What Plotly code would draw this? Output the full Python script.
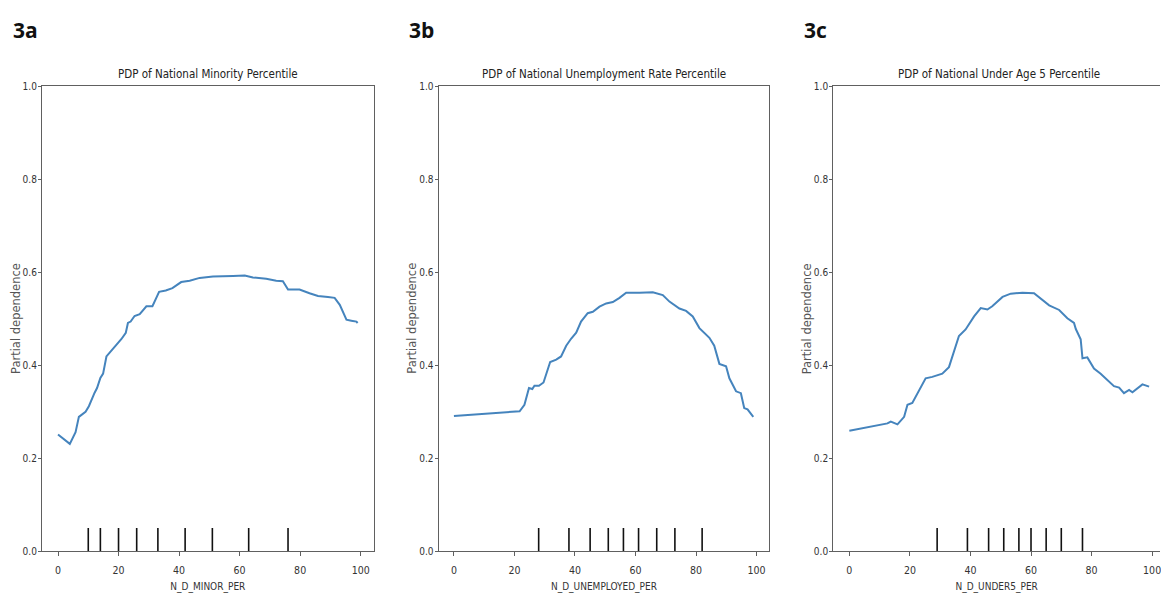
import plotly.graph_objects as go

# ---------------- data ----------------
titles = ["PDP of National Minority Percentile",
          "PDP of National Unemployment Rate Percentile",
          "PDP of National Under Age 5 Percentile"]
xlabels = ["N_D_MINOR_PER", "N_D_UNEMPLOYED_PER", "N_D_UNDER5_PER"]
ylabel = "Partial dependence"
panel_tags = ["3a", "3b", "3c"]

minor_x = [0, 3.9, 5.8, 6.9, 9.1, 10.2, 12.1, 12.9, 14, 14.9, 16, 18.2, 19.5, 20.9, 22.4, 23.1, 24,
           25.3, 27, 29.2, 31.2, 32.2, 33.4, 35.6, 37.8, 40.7, 43.5, 46.8, 51.2, 57.8, 61.7, 64.4,
           68.8, 72.1, 74.3, 76, 79.8, 83.1, 85.9, 89.2, 91.4, 93.1, 95.3, 96.9, 98.6, 99]
minor_y = [0.251, 0.231, 0.256, 0.289, 0.300, 0.312, 0.341, 0.351, 0.373, 0.382, 0.419, 0.436, 0.445,
           0.456, 0.470, 0.491, 0.494, 0.506, 0.510, 0.527, 0.527, 0.540, 0.558, 0.561, 0.566, 0.579,
           0.582, 0.588, 0.591, 0.592, 0.593, 0.589, 0.586, 0.582, 0.581, 0.563, 0.563, 0.555, 0.549,
           0.547, 0.545, 0.530, 0.498, 0.496, 0.494, 0.491]
minor_deciles = [10, 14, 20, 26, 33, 42, 51, 63, 76]

unemp_x = [0, 21.7, 23.3, 24.8, 25.9, 26.6, 28.1, 29.6, 31.8, 33.8, 35.4, 37.1, 38.7, 40.4, 42, 44.2,
           45.9, 48.1, 50.3, 52.5, 54.7, 56.9, 61.3, 65.7, 69, 71.2, 74.5, 76.7, 78.9, 81.1, 84.4, 86,
           87.7, 89.9, 91, 93.2, 94.8, 95.9, 97, 98.9]
unemp_y = [0.291, 0.301, 0.315, 0.351, 0.349, 0.356, 0.356, 0.363, 0.407, 0.412, 0.419, 0.442, 0.457,
           0.470, 0.494, 0.512, 0.515, 0.526, 0.533, 0.536, 0.545, 0.556, 0.556, 0.557, 0.551, 0.537,
           0.522, 0.517, 0.505, 0.480, 0.459, 0.442, 0.403, 0.398, 0.372, 0.344, 0.340, 0.308, 0.305,
           0.289]
unemp_deciles = [28, 38, 45, 51, 56, 61, 67, 73, 82]

under5_x = [0, 12.6, 13.7, 15.9, 18.1, 19.2, 20.8, 23, 25.2, 27.4, 30.7, 32.9, 34.6, 36.2, 38.4, 41.2,
            43.4, 45.6, 47.2, 48.9, 50.6, 53.3, 57.2, 61, 63.2, 66, 69.3, 72, 74.2, 74.8, 76.4, 77,
            78.6, 80.8, 83, 85.2, 87.4, 89.1, 90.7, 92.4, 93.5, 96.8, 99]
under5_y = [0.259, 0.275, 0.279, 0.273, 0.289, 0.315, 0.319, 0.347, 0.372, 0.375, 0.382, 0.396, 0.428,
            0.463, 0.477, 0.505, 0.523, 0.520, 0.527, 0.536, 0.547, 0.554, 0.556, 0.555, 0.544, 0.529,
            0.519, 0.501, 0.491, 0.478, 0.456, 0.415, 0.417, 0.393, 0.382, 0.368, 0.355, 0.352, 0.340,
            0.347, 0.342, 0.359, 0.354]
under5_deciles = [29, 39, 46, 51, 56, 60, 65, 70, 77]

rug_height = 0.05
y_ticks = [0.0, 0.2, 0.4, 0.6, 0.8, 1.0]
x_ticks = [0, 20, 40, 60, 80, 100]

curves = [(minor_x, minor_y, minor_deciles),
          (unemp_x, unemp_y, unemp_deciles),
          (under5_x, under5_y, under5_deciles)]

# ---------------- layout geometry ----------------
W, H = 1161, 593
x_domains = [[42 / W, 374 / W], [439 / W, 770 / W], [834 / W, 1.0]]
x_ranges = [[-5.3, 104.3], [-5.05, 104.2], [-5.3, 102.6]]
y_domain = [(H - 556.5) / H, (H - 82) / H]
title_cx = [208, 604.5, 1000]
ylabel_x = [15.5, 411.5, 807.5]
tag_x = [11, 407, 803]

FONT = "DejaVu Sans Condensed, Liberation Sans Narrow, DejaVu Sans, sans-serif"
LINE_COLOR = "#4584bd"
AX_COLOR = "#606060"

fig = go.Figure()

for i, (xs, ys, dec) in enumerate(curves):
    xa = "x" if i == 0 else f"x{i+1}"
    ya = "y" if i == 0 else f"y{i+1}"
    fig.add_trace(go.Scatter(x=xs, y=ys, mode="lines", xaxis=xa, yaxis=ya,
                             line=dict(color=LINE_COLOR, width=2), showlegend=False))
    rx, ry = [], []
    for d in dec:
        rx += [d, d, None]
        ry += [0, rug_height, None]
    fig.add_trace(go.Scatter(x=rx, y=ry, mode="lines", xaxis=xa, yaxis=ya,
                             line=dict(color="#111111", width=1.6), showlegend=False))

layout = dict(width=W, height=H, margin=dict(l=0, r=0, t=0, b=0),
              paper_bgcolor="white", plot_bgcolor="white",
              font=dict(family=FONT, color="#333333", size=10))

annotations = []
for i in range(3):
    sfx = "" if i == 0 else str(i + 1)
    layout["xaxis" + sfx] = dict(
        domain=x_domains[i], range=x_ranges[i], anchor="y" + sfx,
        tickmode="array", tickvals=x_ticks, ticks="outside", ticklen=4, tickcolor=AX_COLOR,
        ticklabelstandoff=5, ticklabeloverflow="allow",
        showline=True, linecolor=AX_COLOR, linewidth=1.2, mirror=True,
        showgrid=False, zeroline=False,
        tickfont=dict(size=10.5, color="#333333", family=FONT),
        title=dict(text=xlabels[i], font=dict(size=10, color="#333333", family=FONT), standoff=9),
    )
    layout["yaxis" + sfx] = dict(
        domain=y_domain, range=[0, 1], anchor="x" + sfx,
        tickmode="array", tickvals=y_ticks, tickformat=".1f", ticks="outside", ticklen=3,
        tickcolor=AX_COLOR, ticklabelstandoff=-1,
        showline=True, linecolor=AX_COLOR, linewidth=1.2, mirror=(i < 2),
        showgrid=False, zeroline=False,
        tickfont=dict(size=10, color="#333333", family=FONT),
    )
    annotations.append(dict(text=ylabel, xref="paper", yref="paper", x=ylabel_x[i] / W,
                            y=(H - 319) / H, xanchor="center", yanchor="middle", textangle=-90,
                            showarrow=False,
                            font=dict(size=11.5, color="#555555", family="DejaVu Sans")))
    annotations.append(dict(text=titles[i], xref="paper", yref="paper", x=title_cx[i] / W,
                            y=(H - 69) / H, xanchor="center", yanchor="middle", showarrow=False,
                            font=dict(size=11.5, color="#222222", family=FONT)))
    annotations.append(dict(text="<b>" + panel_tags[i] + "</b>", xref="paper", yref="paper",
                            x=tag_x[i] / W, y=(H - 25) / H, xanchor="left", yanchor="middle",
                            showarrow=False,
                            font=dict(size=21, color="#111111", family="Open Sans, DejaVu Sans")))

layout["annotations"] = annotations
fig.update_layout(**layout)
fig.write_html("out.html")
